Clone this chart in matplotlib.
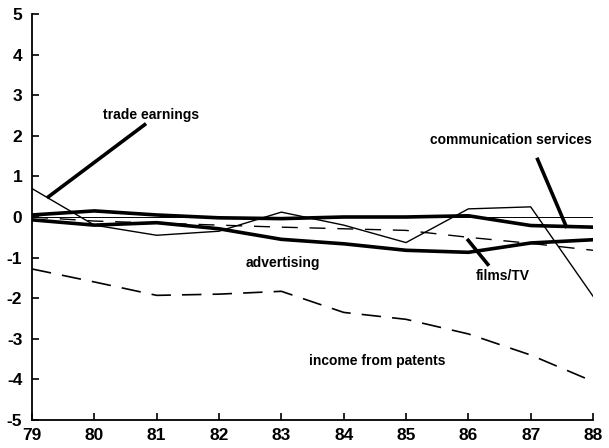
import matplotlib
matplotlib.use("Agg")
import matplotlib.pyplot as plt

plt.rcParams['font.family'] = ['Liberation Sans', 'DejaVu Sans']
plt.rcParams['lines.scale_dashes'] = False

years = [79, 80, 81, 82, 83, 84, 85, 86, 87, 88]
year_labels = ['79', '80', '81', '82', '83', '84', '85', '86', '87', '88']
y_ticks = [-5, -4, -3, -2, -1, 0, 1, 2, 3, 4, 5]

trade_earnings = [0.70, -0.20, -0.45, -0.35, 0.12, -0.20, -0.63, 0.20, 0.25, -1.95]
communication_services = [0.05, 0.15, 0.05, -0.02, -0.04, 0.00, 0.00, 0.03, -0.21, -0.25]
advertising = [-0.07, -0.20, -0.14, -0.29, -0.55, -0.66, -0.82, -0.87, -0.64, -0.56]
films_tv = [0.00, -0.10, -0.15, -0.20, -0.25, -0.29, -0.33, -0.50, -0.65, -0.82]
income_from_patents = [-1.28, -1.60, -1.93, -1.90, -1.83, -2.35, -2.52, -2.88, -3.40, -4.05]
zero_line = [0.0] * len(years)

fig = plt.figure(figsize=(6.09, 4.48), dpi=100)
ax = fig.add_axes([32 / 609, 28 / 448, 561 / 609, 406 / 448])

ax.plot(years, zero_line, color='black', lw=0.7)
ax.plot(years, trade_earnings, color='black', lw=1.0)
ax.plot(years, communication_services, color='black', lw=2.6)
ax.plot(years, advertising, color='black', lw=2.6)
ax.plot(years, films_tv, color='black', lw=1.0, dashes=(11.5, 8.5))
ax.plot(years, income_from_patents, color='black', lw=1.2, dashes=(14, 8))

label_kw = dict(fontsize=10, fontweight='bold', color='black', va='center', ha='left')
ax.text(80.14, 2.52, 'trade earnings', **label_kw)
ax.text(85.38, 1.90, 'communication services', **label_kw)
ax.text(82.42, -1.14, 'advertising', **label_kw)
ax.text(86.12, -1.45, 'films/TV', **label_kw)
ax.text(83.44, -3.55, 'income from patents', **label_kw)

# pointer strokes from labels to their curves
pointer_kw = dict(color='black', lw=2.6, solid_capstyle='butt')
ax.plot([80.83, 79.24], [2.30, 0.47], **pointer_kw)
ax.plot([87.10, 87.58], [1.46, -0.27], **pointer_kw)
ax.plot([85.98, 86.33], [-0.54, -1.20], **pointer_kw)

ax.set_xlim(79, 88)
ax.set_ylim(-5, 5)
ax.set_xticks(years)
ax.set_xticklabels(year_labels)
ax.set_yticks(y_ticks)
ax.set_yticklabels([str(v) for v in y_ticks])

for side in ('top', 'right'):
    ax.spines[side].set_visible(False)
for side in ('left', 'bottom'):
    ax.spines[side].set_linewidth(1.3)

ax.tick_params(axis='both', direction='in', length=5, width=1.2,
               labelsize=12.5)
ax.tick_params(axis='x', pad=6)
ax.tick_params(axis='y', pad=7)
for lab in ax.get_xticklabels() + ax.get_yticklabels():
    lab.set_fontweight('bold')

fig.savefig('out.png', dpi=100)
